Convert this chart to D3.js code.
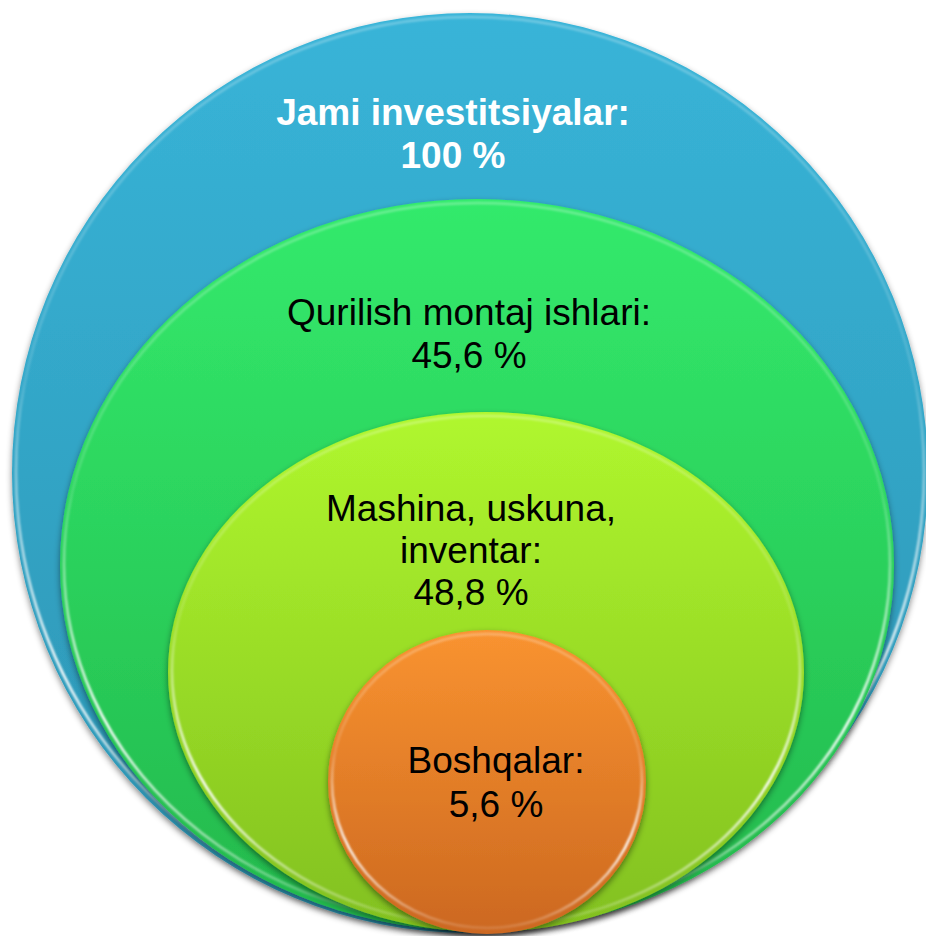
<!DOCTYPE html>
<meta charset="utf-8">
<head>
<style>
  body { margin: 0; background: #fff; }
  .label { font-family: "Liberation Sans", Arial, sans-serif; font-size: 37px; text-anchor: middle; }
</style>
</head>
<body>
<script src="https://d3js.org/d3.v7.min.js"></script>
<script>

// data
var categories = ["Jami investitsiyalar", "Qurilish montaj ishlari", "Mashina, uskuna, inventar", "Boshqalar"];
var values = [100, 45.6, 48.8, 5.6];
var labelLines = [
  ["Jami investitsiyalar:"],
  ["Qurilish montaj ishlari:"],
  ["Mashina, uskuna,", "inventar:"],
  ["Boshqalar:"]
];

// layout (pixels) - nested ellipses, all sitting on the same bottom line
var width = 926, height = 936;
var shapes = [
  {cx: 470, cy: 473, rx: 458, ry: 460},
  {cx: 477, cy: 565, rx: 417, ry: 366},
  {cx: 486, cy: 672, rx: 318, ry: 260},
  {cx: 487, cy: 782, rx: 159, ry: 152}
];
var textPos = [
  {x: 453, y: 125, dy: 43, color: "#fff", weight: "bold"},
  {x: 469, y: 325, dy: 43, color: "#000", weight: "normal"},
  {x: 471, y: 521, dy: 42, color: "#000", weight: "normal"},
  {x: 496, y: 773, dy: 44, color: "#000", weight: "normal"}
];
var topColor = d3.scaleOrdinal().domain(categories).range(["#38b4d8", "#33ea6c", "#b0f72e", "#f99330"]);
var botColor = d3.scaleOrdinal().domain(categories).range(["#2c94b2", "#23b84c", "#82c01f", "#cc6820"]);

var uz = d3.formatLocale({decimal: ",", thousands: " ", grouping: [3], currency: ["", ""]});
var fmt = uz.format("~g");

var svg = d3.select("body").append("svg")
    .attr("width", width)
    .attr("height", height);

var defs = svg.append("defs");

var shadow = defs.append("filter").attr("id", "shadow")
    .attr("x", "-10%").attr("y", "-10%").attr("width", "120%").attr("height", "120%");
shadow.append("feDropShadow")
    .attr("dx", 0).attr("dy", 3)
    .attr("stdDeviation", 3)
    .attr("flood-color", "#000")
    .attr("flood-opacity", 0.45);

var blur = defs.append("filter").attr("id", "soft");
blur.append("feGaussianBlur").attr("stdDeviation", 0.8);

categories.forEach(function(c, i) {
  var g = defs.append("linearGradient").attr("id", "fill" + i)
      .attr("x1", 0).attr("y1", 0).attr("x2", 0).attr("y2", 1);
  g.append("stop").attr("offset", "0%").attr("stop-color", topColor(c));
  g.append("stop").attr("offset", "100%").attr("stop-color", botColor(c));
});

var rim = defs.append("linearGradient").attr("id", "rim")
    .attr("x1", 0).attr("y1", 0).attr("x2", 0).attr("y2", 1);
rim.append("stop").attr("offset", "0%").attr("stop-color", "#fff").attr("stop-opacity", 0.3);
rim.append("stop").attr("offset", "40%").attr("stop-color", "#fff").attr("stop-opacity", 0.15);
rim.append("stop").attr("offset", "72%").attr("stop-color", "#fff").attr("stop-opacity", 1);
rim.append("stop").attr("offset", "100%").attr("stop-color", "#fff").attr("stop-opacity", 0.15);

var nodes = categories.map(function(c, i) {
  return {name: c, value: values[i], lines: labelLines[i], shape: shapes[i], text: textPos[i], i: i};
});

var groups = svg.selectAll("g.ring")
    .data(nodes)
  .enter().append("g")
    .attr("class", "ring");

groups.append("ellipse")
    .attr("cx", function(d) { return d.shape.cx; })
    .attr("cy", function(d) { return d.shape.cy; })
    .attr("rx", function(d) { return d.shape.rx; })
    .attr("ry", function(d) { return d.shape.ry; })
    .attr("fill", function(d) { return "url(#fill" + d.i + ")"; })
    .attr("filter", "url(#shadow)");

// bevel highlight just inside the edge
groups.append("ellipse")
    .attr("cx", function(d) { return d.shape.cx; })
    .attr("cy", function(d) { return d.shape.cy - 1; })
    .attr("rx", function(d) { return d.shape.rx - 4; })
    .attr("ry", function(d) { return d.shape.ry - 5; })
    .attr("fill", "none")
    .attr("stroke", "url(#rim)")
    .attr("stroke-width", 2.5)
    .attr("filter", "url(#soft)");

groups.each(function(d) {
  var t = d3.select(this).append("text")
      .attr("class", "label")
      .attr("fill", d.text.color)
      .attr("font-weight", d.text.weight);
  var lines = d.lines.concat([fmt(d.value) + " %"]);
  lines.forEach(function(s, k) {
    t.append("tspan")
        .attr("x", d.text.x)
        .attr("y", d.text.y + k * d.text.dy)
        .text(s);
  });
});

</script>
</body>
